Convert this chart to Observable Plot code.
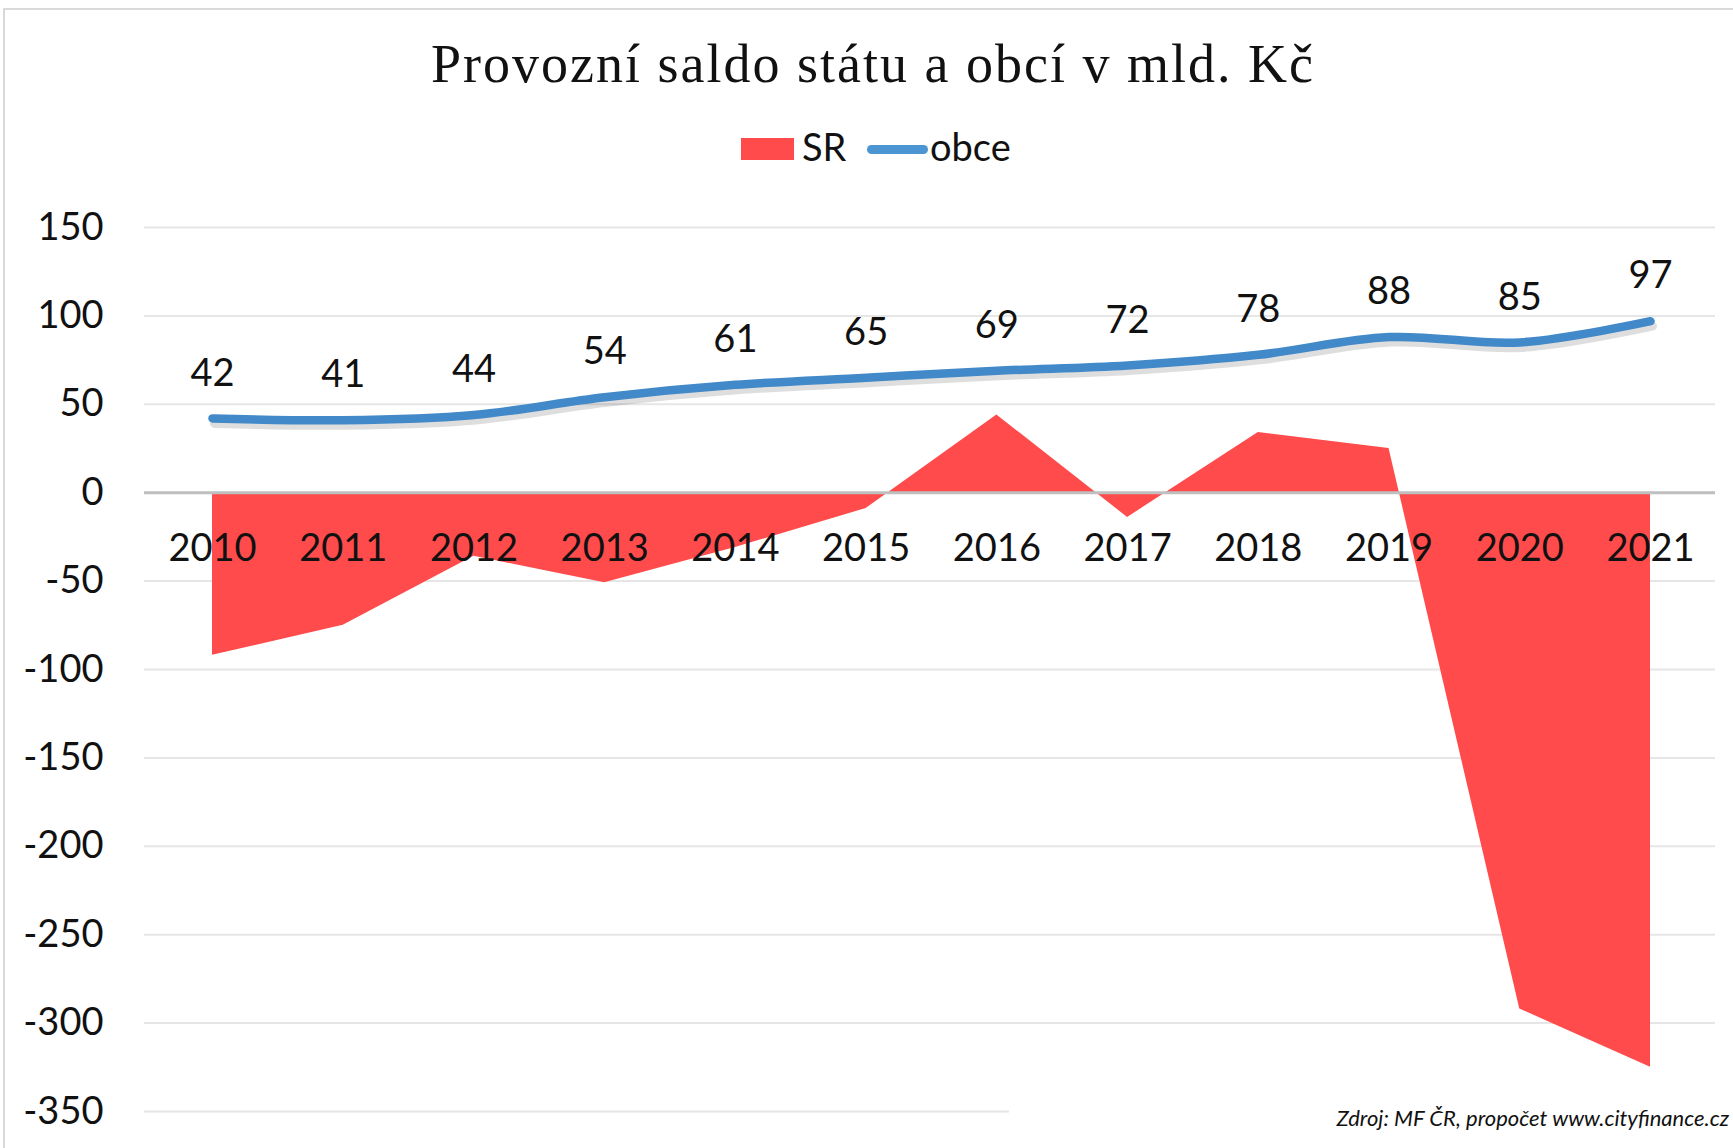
<!DOCTYPE html>
<html>
<head>
<meta charset="utf-8">
<script src="https://cdn.jsdelivr.net/npm/d3@7"></script>
<script src="https://cdn.jsdelivr.net/npm/@observablehq/plot@0.6"></script>
<style>
  html, body { margin: 0; padding: 0; background: #fff; }
  #wrap { position: relative; width: 1733px; height: 1148px; overflow: hidden; background: #fff; }
  #border { position: absolute; left: 3px; top: 8px; width: 1800px; height: 1200px; border-left: 2px solid #d9d9d9; border-top: 2px solid #d9d9d9; box-sizing: border-box; }
  #title { position: absolute; left: 0; width: 1746px; top: 37px; text-align: center; font-family: "Liberation Serif", serif; font-size: 54px; letter-spacing: 2px; line-height: 1; color: #111; white-space: nowrap; }
  .leg { position: absolute; font-family: Lato, sans-serif; font-size: 38px; line-height: 1; color: #111; }
  #chart { position: absolute; left: 0; top: 170px; }
  #caption { position: absolute; left: 1009px; right: 4px; top: 1107px; height: 24px; background: #fff; text-align: right; font-family: Lato, sans-serif; font-style: italic; font-size: 22px; line-height: 1; color: #111; }
</style>
</head>
<body>
<div id="wrap">
  <div id="border"></div>
  <div id="title">Provozní saldo státu a obcí v mld. Kč</div>
  <div class="leg" style="left:741px; top:138px; width:53px; height:22px; background:#ff4b4b;"></div>
  <div class="leg" style="left:802px; top:127px;">SR</div>
  <div class="leg" style="left:867px; top:145px; width:61px; height:9px; background:#4a95d2; border-radius:5px;"></div>
  <div class="leg" style="left:930px; top:127px;">obce</div>
  <div id="chart"></div>
  <div id="caption">Zdroj: MF ČR, propočet www.cityfinance.cz</div>
</div>
<script>
const years = ["2010","2011","2012","2013","2014","2015","2016","2017","2018","2019","2020","2021"];
const sr = [-92, -75, -36, -51, -31, -9, 44, -14, 34, 25, -292, -325];
const obce = [42, 41, 44, 54, 61, 65, 69, 72, 78, 88, 85, 97];
const yTicks = [150, 100, 50, 0, -50, -100, -150, -200, -250, -300, -350];

const data = years.map((y, i) => ({year: y, sr: sr[i], obce: obce[i]}));

const chart = Plot.plot({
  width: 1733,
  height: 978,
  marginLeft: 144,
  marginRight: 18,
  marginTop: 57,
  marginBottom: 37,
  style: {fontFamily: "Lato, sans-serif", color: "#111", background: "transparent"},
  x: {type: "point", domain: years, padding: 0, range: [212, 1650], round: false, axis: null},
  y: {domain: [-350, 150]},
  marks: [
    Plot.gridY(yTicks, {stroke: "#e6e6e6", strokeOpacity: 1, strokeWidth: 2}),
    Plot.axisY(yTicks, {tickSize: 0, tickPadding: 41, fontSize: 38, tickFormat: d => String(d), fill: "#111"}),
    Plot.areaY(data, {x: "year", y: "sr", fill: "#ff4b4b"}),
    Plot.ruleY([0], {stroke: "#bfbfbf", strokeWidth: 3}),
    Plot.text(data, {x: "year", y: () => 0, text: "year", dy: 56, fontSize: 38, fill: "#111"}),
    Plot.line(data, {x: "year", y: "obce", curve: "catmull-rom", stroke: "#000", strokeOpacity: 0.13, strokeWidth: 9, dx: 2, dy: 5, strokeLinecap: "round"}),
    Plot.line(data, {x: "year", y: "obce", curve: "catmull-rom", stroke: "#4189c8", strokeWidth: 8.5, strokeLinecap: "round", strokeLinejoin: "round"}),
    Plot.text(data, {x: "year", y: "obce", text: d => String(d.obce), dy: -45, fontSize: 38, fill: "#111"})
  ]
});
document.getElementById("chart").appendChild(chart);
</script>
</body>
</html>
